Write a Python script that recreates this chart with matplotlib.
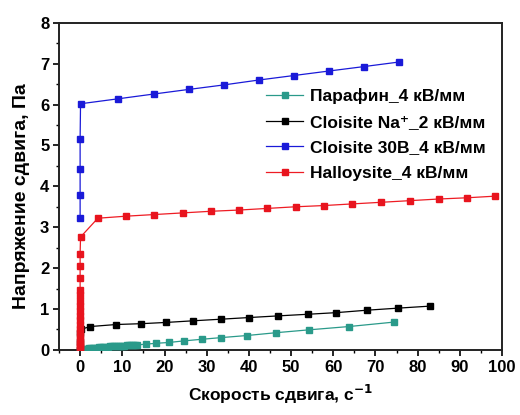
import matplotlib
matplotlib.use("Agg")
import matplotlib.pyplot as plt
from matplotlib.ticker import MultipleLocator

plt.rcParams['font.family'] = ['Liberation Sans', 'DejaVu Sans']
plt.rcParams['font.weight'] = 'bold'

# Paraffin, 4 kV/mm
paraffin_x = [0.0, 0.5, 1.0, 1.5, 2.0, 2.5, 3.0, 3.5, 4.0, 4.5, 5.0, 5.5, 6.0, 6.5, 7.0,
              7.5, 8.0, 8.5, 9.0, 9.5, 10.0, 10.5, 11.0, 11.5, 12.0, 12.5, 13.0, 13.5,
              15.6, 18.0, 21.0, 24.7, 29.0, 33.5, 39.5, 46.5, 54.3, 63.7, 74.5]
paraffin_y = [0.0, 0.01, 0.02, 0.03, 0.035, 0.04, 0.045, 0.05, 0.055, 0.06, 0.065, 0.07,
              0.075, 0.08, 0.085, 0.088, 0.09, 0.093, 0.096, 0.1, 0.103, 0.106, 0.108,
              0.11, 0.113, 0.116, 0.118, 0.12,
              0.14, 0.16, 0.18, 0.22, 0.26, 0.30, 0.35, 0.42, 0.49, 0.57, 0.68]

# Cloisite Na+, 2 kV/mm
na_x = [0.0, 0.0, 0.0, 0.1, 2.4, 8.6, 14.5, 20.3, 26.7, 33.4, 40.0, 46.8, 53.9, 60.7, 68.0,
        75.3, 83.0]
na_y = [0.0, 0.2, 0.4, 0.5, 0.57, 0.62, 0.64, 0.67, 0.71, 0.75, 0.79, 0.83, 0.87, 0.91, 0.97,
        1.02, 1.07]

# Cloisite 30B, 4 kV/mm
c30_x = [0.0, 0.0, 0.0, 0.0, 0.1, 8.9, 17.6, 25.7, 34.0, 42.3, 50.6, 58.9, 67.3, 75.5]
c30_y = [3.22, 3.78, 4.42, 5.16, 6.02, 6.14, 6.26, 6.37, 6.48, 6.60, 6.71, 6.82, 6.93, 7.04]

# Halloysite, 4 kV/mm
hal_x = [0.0, 0.0, 0.0, 0.0, 0.0, 0.0, 0.0, 0.0, 0.0, 0.0, 0.0, 0.0, 0.0, 0.0, 0.0,
         0.0, 0.0, 0.0, 0.0, 0.0, 0.1, 4.2, 10.9, 17.6, 24.3, 31.0, 37.7, 44.4, 51.1,
         57.8, 64.5, 71.4, 78.2, 85.0, 91.7, 98.4]
hal_y = [0.0, 0.05, 0.1, 0.15, 0.2, 0.27, 0.35, 0.43, 0.52, 0.62, 0.72, 0.83, 0.95,
         1.07, 1.2, 1.33, 1.47, 1.75, 2.04, 2.35, 2.76, 3.22, 3.27, 3.31, 3.35, 3.39,
         3.42, 3.46, 3.50, 3.53, 3.57, 3.61, 3.65, 3.69, 3.72, 3.76]

labels = ['Парафин_4 кВ/мм', 'Cloisite Na\u207a_2 кВ/мм',
          'Cloisite 30B_4 кВ/мм', 'Halloysite_4 кВ/мм']

fig = plt.figure(figsize=(5.2, 4.15), dpi=100)
ax = fig.add_axes([0.1135, 0.157, 0.852, 0.788])

ms = 4.2
ax.plot(paraffin_x, paraffin_y, '-s', color='#2a9a8a', mfc='#2a9a8a', mec='#2a9a8a',
        lw=0.9, ms=ms, label=labels[0], zorder=3)
ax.plot(na_x, na_y, '-s', color='black', mfc='black', mec='black',
        lw=0.9, ms=ms, label=labels[1], zorder=2)
ax.plot(c30_x, c30_y, '-s', color='#1a1ad8', mfc='#1a1ad8', mec='#1a1ad8',
        lw=0.9, ms=ms, label=labels[2], zorder=3)
ax.plot(hal_x, hal_y, '-s', color='#ee1c24', mfc='#e8141e', mec='#e8141e',
        lw=0.9, ms=ms, label=labels[3], zorder=4)

ax.set_xlim(-5, 100)
ax.set_ylim(0, 8)
ax.xaxis.set_major_locator(MultipleLocator(10))
ax.xaxis.set_minor_locator(MultipleLocator(5))
ax.yaxis.set_major_locator(MultipleLocator(1))
ax.yaxis.set_minor_locator(MultipleLocator(0.5))
ax.tick_params(which='major', direction='out', length=4, width=1.2, labelsize=12,
               pad=3, top=False, right=False)
ax.tick_params(which='minor', direction='out', length=2.5, width=1.0,
               top=False, right=False)
for sp in ax.spines.values():
    sp.set_linewidth(1.4)
    sp.set_color('#222222')

ax.set_xlabel('Скорость сдвига, с$^{-1}$', fontsize=12.5, fontweight='bold', labelpad=6)
ax.set_ylabel('Напряжение сдвига, Па', fontsize=14, fontweight='bold')
ax.yaxis.set_label_coords(-0.066, 0.47)

leg = ax.legend(loc='upper left', bbox_to_anchor=(0.468, 0.80), frameon=False,
                fontsize=12.5, handlelength=2.1, handletextpad=0.4, labelspacing=0.6,
                borderaxespad=0.0, borderpad=0.0)

fig.savefig('out.png', dpi=100)
